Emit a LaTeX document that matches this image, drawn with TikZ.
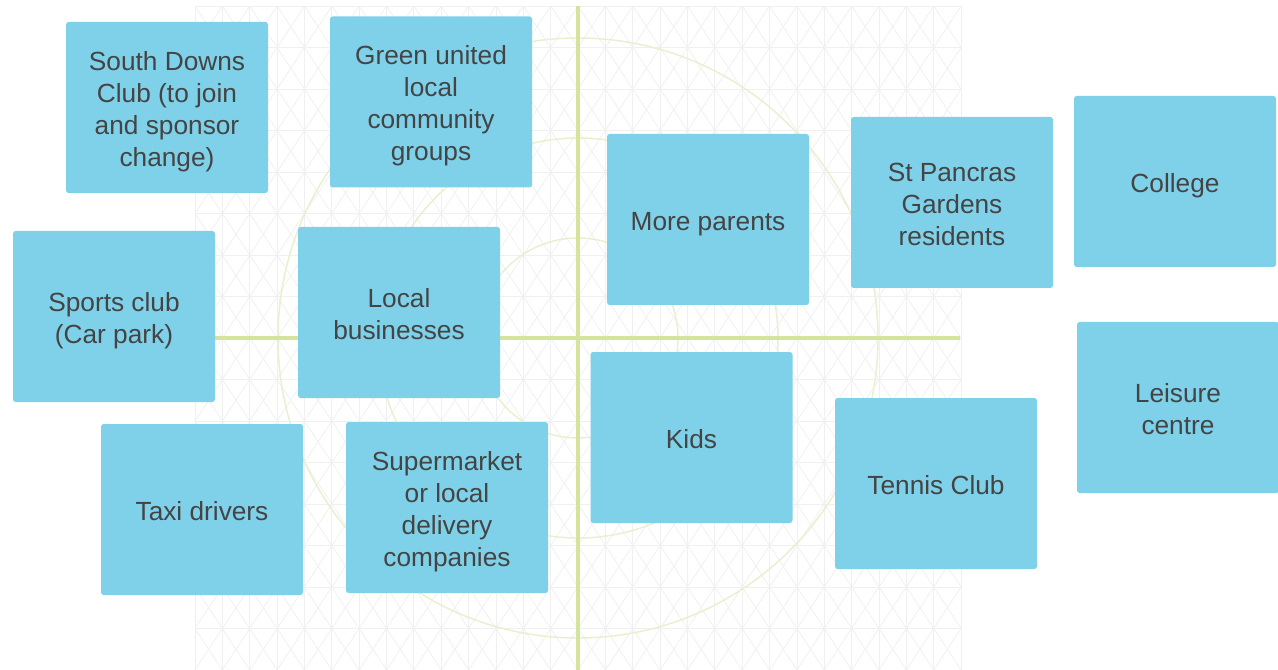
\documentclass[tikz,border=0pt]{standalone}
\usepackage{fontspec}
\setmainfont{Liberation Sans}
\definecolor{cardblue}{HTML}{7FD1E9}
\definecolor{cardtext}{HTML}{444444}
\definecolor{axisgreen}{HTML}{D5E49C}
\definecolor{ringgreen}{HTML}{E9EFCF}
\definecolor{gridgrey}{HTML}{F0F0F0}
% fixed ascent and descent for the card text
\newcommand\cardlines[1]{\rule{0pt}{20pt}#1\rule[-4.2pt]{0pt}{0pt}}
\begin{document}
\begin{tikzpicture}[x=0.75pt,y=-0.75pt,line join=bevel,
  card/.style={fill=cardblue,draw=none,rounded corners=2pt,text=cardtext,
    minimum width=151.5pt,minimum height=128.25pt,inner sep=0pt,
    align=center,font=\fontsize{19.7}{24}\selectfont},
  gridline/.style={draw=gridgrey,line width=0.6pt},
  ring/.style={draw=ringgreen,line width=1.1pt},
  axis/.style={draw=axisgreen,line width=3.6pt}]
\useasboundingbox (0,0) rectangle (1278,670);
%% background grid
\foreach \i in {0,...,27} {
  \foreach \j in {-8,...,7} {
    \draw [gridline] ({195+27.36*\i},{338+41.5*\j}) -- ({195+27.36*(\i+1)},{338+41.5*(\j+1)});
    \draw [gridline] ({195+27.36*(\i+1)},{338+41.5*\j}) -- ({195+27.36*\i},{338+41.5*(\j+1)});
  }
}
\foreach \i in {0,...,28} \draw [gridline] ({195+27.36*\i},6) -- ({195+27.36*\i},670);
\foreach \j in {-8,...,8} \draw [gridline] (195,{338+41.5*\j}) -- (961,{338+41.5*\j});
%% rings and axes
\coordinate (centre) at (578,338);
\foreach \r in {100,200,300} \draw [ring] (centre) circle [radius=\r];
\coordinate (axis top) at (578,6);
\coordinate (axis bottom) at (578,670);
\coordinate (axis left) at (200,338);
\coordinate (axis right) at (960,338);
\draw [axis] (axis top) -- (axis bottom);
\draw [axis] (axis left) -- (axis right);
%%
\node (southdowns) at (167,107.5) [card] {\cardlines{South Downs\\Club (to join\\and sponsor\\change)}};
  \node (greenunited) at (431,102) [card] {\cardlines{Green united\\local\\community\\groups}};
  \node (moreparents) at (708,219.5) [card] {\cardlines{More parents}};
  \node (stpancras) at (952,202.5) [card] {\cardlines{St Pancras\\Gardens\\residents}};
  \node (college) at (1175,181.5) [card] {\cardlines{College}};
  \node (sportsclub) at (114,316.5) [card] {\cardlines{Sports club\\(Car park)}};
  \node (localbusinesses) at (399,312.5) [card] {\cardlines{Local\\businesses}};
  \node (leisurecentre) at (1178,407.5) [card] {\cardlines{Leisure\\centre}};
  \node (kids) at (691.5,437.5) [card] {\cardlines{Kids}};
  \node (tennisclub) at (936,483.5) [card] {\cardlines{Tennis Club}};
  \node (taxidrivers) at (202,509.5) [card] {\cardlines{Taxi drivers}};
  \node (supermarket) at (447,507.5) [card] {\cardlines{Supermarket\\or local\\delivery\\companies}};
%
\end{tikzpicture}
\end{document}
